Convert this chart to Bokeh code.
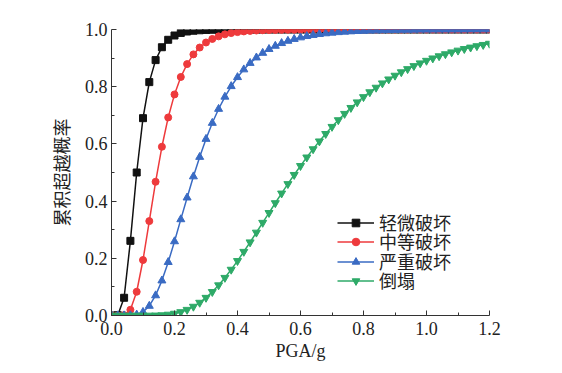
from bokeh.plotting import figure
from bokeh.models import FixedTicker, Legend, LegendItem, Range1d
from bokeh.embed import file_html
from bokeh.resources import INLINE

pga = [0.00, 0.02, 0.04, 0.06, 0.08, 0.10, 0.12, 0.14, 0.16, 0.18,
       0.20, 0.22, 0.24, 0.26, 0.28, 0.30, 0.32, 0.34, 0.36, 0.38,
       0.40, 0.42, 0.44, 0.46, 0.48, 0.50, 0.52, 0.54, 0.56, 0.58,
       0.60, 0.62, 0.64, 0.66, 0.68, 0.70, 0.72, 0.74, 0.76, 0.78,
       0.80, 0.82, 0.84, 0.86, 0.88, 0.90, 0.92, 0.94, 0.96, 0.98,
       1.00, 1.02, 1.04, 1.06, 1.08, 1.10, 1.12, 1.14, 1.16, 1.18, 1.20]

slight = [0.0, 0.001, 0.062, 0.261, 0.500, 0.690, 0.816, 0.893, 0.938, 0.964,
          0.979, 0.988, 0.993, 0.9956, 0.9973, 0.9984, 0.9990, 0.9994, 0.9996, 0.9997,
          0.9998, 0.9999, 0.9999, 0.9999, 0.9999, 0.9999, 1.0, 1.0, 1.0, 1.0,
          1.0, 1.0, 1.0, 1.0, 1.0, 1.0, 1.0, 1.0, 1.0, 1.0,
          1.0, 1.0, 1.0, 1.0, 1.0, 1.0, 1.0, 1.0, 1.0, 1.0,
          1.0, 1.0, 1.0, 1.0, 1.0, 1.0, 1.0, 1.0, 1.0, 1.0, 1.0]

moderate = [0.0, 0.0, 0.0014, 0.020, 0.083, 0.194, 0.330, 0.4675, 0.590, 0.6925,
            0.773, 0.834, 0.879, 0.913, 0.937, 0.9546, 0.967, 0.976, 0.983, 0.9875,
            0.9909, 0.9933, 0.9951, 0.9964, 0.9973, 0.998, 0.9985, 0.9989, 0.9992, 0.9994,
            0.9995, 0.9996, 0.9997, 0.9997, 0.9998, 0.9998, 0.9998, 0.9999, 0.9999, 0.9999,
            0.9999, 0.9999, 0.9999, 0.9999, 0.9999, 0.9999, 1.0, 1.0, 1.0, 1.0,
            1.0, 1.0, 1.0, 1.0, 1.0, 1.0, 1.0, 1.0, 1.0, 1.0, 1.0]

severe = [0.0, 0.0, 0.0, 0.0003, 0.0027, 0.012, 0.0333, 0.070, 0.122, 0.1865,
          0.259, 0.336, 0.412, 0.486, 0.554, 0.617, 0.673, 0.722, 0.7646, 0.8015,
          0.833, 0.860, 0.8826, 0.9017, 0.9178, 0.9313, 0.9425, 0.952, 0.9599, 0.9664,
          0.9719, 0.9765, 0.9803, 0.9835, 0.9861, 0.9883, 0.9902, 0.9917, 0.9930, 0.9941,
          0.9950, 0.9958, 0.9964, 0.9970, 0.9974, 0.9978, 0.9982, 0.9984, 0.9987, 0.9989,
          0.9990, 0.9992, 0.9993, 0.9994, 0.9995, 0.9995, 0.9996, 0.9997, 0.9997, 0.9998, 0.9998]

collapse = [0.0, 0.0, 0.0, 0.0, 0.0, 0.0, 0.0001, 0.0005, 0.0014, 0.0034,
            0.0068, 0.0123, 0.0203, 0.0312, 0.0451, 0.0623, 0.0827, 0.1061, 0.1321, 0.1606,
            0.191, 0.2231, 0.2562, 0.2903, 0.3246, 0.359, 0.3933, 0.427, 0.460, 0.492,
            0.5232, 0.5531, 0.5818, 0.6092, 0.6352, 0.660, 0.6834, 0.7055, 0.7263, 0.7457,
            0.7641, 0.7811, 0.797, 0.8121, 0.826, 0.839, 0.851, 0.862, 0.8726, 0.8822,
            0.8911, 0.8994, 0.907, 0.9141, 0.9206, 0.9267, 0.9323, 0.9374, 0.9422, 0.9466, 0.9507]

series_names = ["轻微破坏", "中等破坏", "严重破坏", "倒塌"]

x_ticks = [0.0, 0.2, 0.4, 0.6, 0.8, 1.0, 1.2]
x_minor = [0.1, 0.3, 0.5, 0.7, 0.9, 1.1]
y_ticks = [0.0, 0.2, 0.4, 0.6, 0.8, 1.0]
y_minor = [0.1, 0.3, 0.5, 0.7, 0.9]

serif = "Liberation Serif"
cjk = "Noto Sans CJK SC"

p = figure(width=554, height=365, output_backend="svg", toolbar_location=None,
           x_range=Range1d(0, 1.2), y_range=Range1d(0, 1.0),
           min_border_left=111, min_border_right=65, min_border_top=29, min_border_bottom=50)
p.outline_line_color = None
p.grid.visible = False
p.background_fill_color = "white"

styles = [
    ("#111111", "square", 7),
    ("#EE3A3C", "circle", 7),
    ("#3A6BC3", "triangle", 8),
    ("#2EAA68", "inverted_triangle", 8),
]
data = [slight, moderate, severe, collapse]
legend_rows_y = [80, 61, 41, 22]

for vals, (col, mk, sz), name, ly in zip(data, styles, series_names, legend_rows_y):
    lr = p.line(pga, vals, line_color=col, line_width=1.5)
    sr = p.scatter(pga, vals, marker=mk, size=sz, fill_color=col, line_color=col)
    legend = Legend(items=[LegendItem(label=name, renderers=[lr, sr])], location=(226, ly))
    legend.background_fill_alpha = 0
    legend.border_line_color = None
    legend.padding = 0
    legend.margin = 0
    legend.spacing = 0
    legend.glyph_width = 37
    legend.glyph_height = 19
    legend.label_height = 19
    legend.label_standoff = 5
    legend.label_text_font = cjk
    legend.label_text_font_size = "18px"
    legend.label_text_color = "#222222"
    p.add_layout(legend, "center")

for ax, ticks, minor in ((p.xaxis[0], x_ticks, x_minor), (p.yaxis[0], y_ticks, y_minor)):
    ax.ticker = FixedTicker(ticks=ticks, minor_ticks=minor)
    ax.major_tick_in = 5
    ax.major_tick_out = 0
    ax.minor_tick_in = 3
    ax.minor_tick_out = 0
    ax.axis_line_color = "#333333"
    ax.major_tick_line_color = "#333333"
    ax.minor_tick_line_color = "#333333"
    ax.major_label_text_font = serif
    ax.major_label_text_font_size = "18px"
    ax.major_label_text_color = "#222222"
    ax.axis_label_text_font_style = "normal"
    ax.axis_label_text_font_size = "18px"
    ax.axis_label_text_color = "#222222"

p.xaxis[0].major_label_overrides = {t: f"{t:.1f}" for t in x_ticks}
p.yaxis[0].major_label_overrides = {t: f"{t:.1f}" for t in y_ticks}
p.xaxis[0].axis_label = "PGA/g"
p.xaxis[0].axis_label_text_font = serif
p.xaxis[0].major_label_standoff = 6
p.xaxis[0].axis_label_standoff = 3
p.yaxis[0].axis_label = "累积超越概率"
p.yaxis[0].axis_label_text_font = cjk
p.yaxis[0].major_label_standoff = 4
p.yaxis[0].axis_label_standoff = 8

open("out.html", "w").write(file_html(p, INLINE))
